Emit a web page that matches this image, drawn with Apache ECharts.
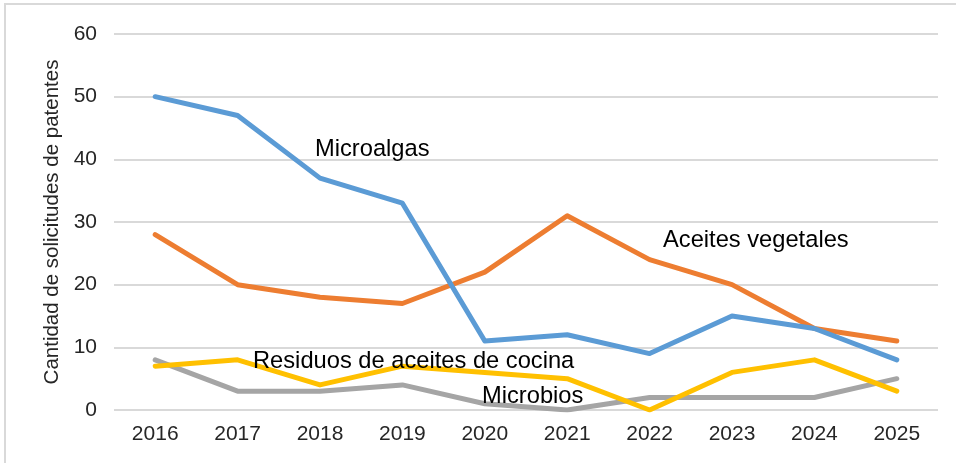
<!DOCTYPE html>
<html>
<head>
<meta charset="utf-8">
<script src="https://cdn.jsdelivr.net/npm/echarts@6/dist/echarts.min.js"></script>
<style>
  html, body { margin: 0; padding: 0; background: #fff; }
  #chart { width: 956px; height: 463px; }
</style>
</head>
<body>
<div id="chart"></div>
<script>
const years = ['2016', '2017', '2018', '2019', '2020', '2021', '2022', '2023', '2024', '2025'];
const microalgas = [50, 47, 37, 33, 11, 12, 9, 15, 13, 8];
const aceitesVegetales = [28, 20, 18, 17, 22, 31, 24, 20, 13, 11];
const residuosCocina = [7, 8, 4, 7, 6, 5, 0, 6, 8, 3];
const microbios = [8, 3, 3, 4, 1, 0, 2, 2, 2, 5];
const yTicks = [0, 10, 20, 30, 40, 50, 60];

const chart = echarts.init(document.getElementById('chart'));
const FONT = 'Liberation Sans, Arial, sans-serif';

const lineSeries = (name, data, color) => ({
  name,
  type: 'line',
  data,
  symbol: 'none',
  lineStyle: { color, width: 5, cap: 'round', join: 'round' },
  itemStyle: { color },
  z: 2
});

// series name labels placed inside the plot, like the original
const txt = (text, x, y) => ({
  type: 'text',
  x, y,
  style: { text, fill: '#000', font: '23.7px "Liberation Sans", Arial, sans-serif', verticalAlign: 'middle' },
  z: 10
});

chart.setOption({
  animation: false,
  grid: { left: 114, right: 18, top: 34, bottom: 53 },
  xAxis: {
    type: 'category',
    data: years,
    boundaryGap: true,
    axisLine: { show: false },
    axisTick: { show: false },
    axisLabel: { color: '#262626', fontSize: 21, fontFamily: FONT, margin: 14 }
  },
  yAxis: {
    type: 'value',
    min: yTicks[0],
    max: yTicks[yTicks.length - 1],
    interval: 10,
    name: 'Cantidad de solicitudes de patentes',
    nameLocation: 'middle',
    nameGap: 48,
    nameTextStyle: { color: '#262626', fontSize: 20.5, fontFamily: FONT },
    axisLine: { show: false },
    axisTick: { show: false },
    axisLabel: { color: '#262626', fontSize: 21, fontFamily: FONT, margin: 17 },
    splitLine: { lineStyle: { color: '#d9d9d9', width: 2 } }
  },
  series: [
    lineSeries('Microbios', microbios, '#a5a5a5'),
    lineSeries('Residuos de aceites de cocina', residuosCocina, '#ffc000'),
    lineSeries('Aceites vegetales', aceitesVegetales, '#ed7d31'),
    lineSeries('Microalgas', microalgas, '#5b9bd5')
  ],
  graphic: [
    {
      type: 'polyline',
      shape: { points: [[5, 463], [5, 4], [956, 4]] },
      style: { stroke: '#d9d9d9', lineWidth: 2, fill: null }
    },
    txt('Microalgas', 315, 149),
    txt('Aceites vegetales', 663, 240),
    txt('Residuos de aceites de cocina', 253, 361),
    txt('Microbios', 482, 396)
  ]
});
</script>
</body>
</html>
